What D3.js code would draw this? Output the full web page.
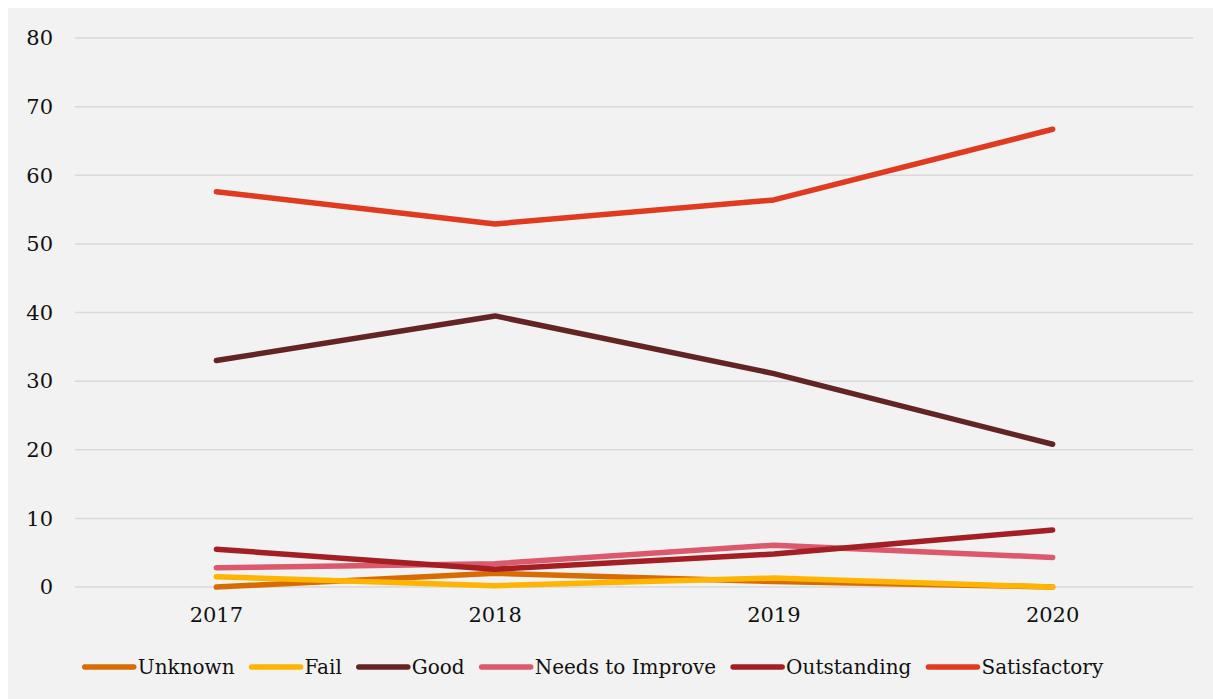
<!DOCTYPE html>
<html>
<head>
<meta charset="utf-8">
<script src="https://cdn.jsdelivr.net/npm/d3@7"></script>
<style>
  body { margin: 0; background: #fff; }
</style>
</head>
<body>
<svg id="chart" width="1213" height="699"></svg>
<script>
// data
const years = ['2017', '2018', '2019', '2020'];
const seriesNames = ['Unknown', 'Fail', 'Good', 'Needs to Improve', 'Outstanding', 'Satisfactory'];
const unknown = [0, 2.0, 0.8, 0];
const fail = [1.5, 0.2, 1.3, 0];
const good = [33.0, 39.5, 31.1, 20.8];
const needsToImprove = [2.8, 3.4, 6.1, 4.3];
const outstanding = [5.5, 2.6, 4.8, 8.3];
const satisfactory = [57.6, 52.9, 56.4, 66.7];
const yTicks = [0, 10, 20, 30, 40, 50, 60, 70, 80];
const colors = ['#d96c00', '#ffb500', '#632523', '#dc586d', '#a31f23', '#e03a20'];

const seriesValues = [unknown, fail, good, needsToImprove, outstanding, satisfactory];
const series = seriesNames.map((name, i) => ({ name, values: seriesValues[i], color: colors[i] }));

const FONT = "'DejaVu Serif', 'Liberation Serif', serif";

const svg = d3.select('#chart')
  .attr('font-family', FONT)
  .style('font-family', FONT);

// panel background
svg.append('rect')
  .attr('x', 8).attr('y', 8)
  .attr('width', 1205).attr('height', 691)
  .attr('fill', '#f2f2f2');

const x = d3.scaleBand().domain(years).range([77, 1192]);
const y = d3.scaleLinear().domain([0, 80]).range([587, 38]);

// gridlines
svg.append('g')
  .selectAll('line')
  .data(yTicks)
  .join('line')
  .attr('x1', 75).attr('x2', 1193)
  .attr('y1', d => y(d)).attr('y2', d => y(d))
  .attr('stroke', '#d9d9d9')
  .attr('stroke-width', 1.5);

// y labels
svg.append('g')
  .selectAll('text')
  .data(yTicks)
  .join('text')
  .attr('x', 53)
  .attr('y', d => y(d))
  .attr('dy', '0.35em')
  .attr('text-anchor', 'end')
  .attr('font-size', 21)
  .attr('fill', '#111')
  .text(d => d);

// x labels
svg.append('g')
  .selectAll('text')
  .data(years)
  .join('text')
  .attr('x', d => x(d) + x.bandwidth() / 2)
  .attr('y', 615)
  .attr('dy', '0.35em')
  .attr('text-anchor', 'middle')
  .attr('font-size', 21)
  .attr('fill', '#111')
  .text(d => d);

// lines
const line = d3.line()
  .x((d, i) => x(years[i]) + x.bandwidth() / 2)
  .y(d => y(d));

svg.append('g')
  .selectAll('path')
  .data(series)
  .join('path')
  .attr('d', d => line(d.values))
  .attr('fill', 'none')
  .attr('stroke', d => d.color)
  .attr('stroke-width', 5.5)
  .attr('stroke-linecap', 'round')
  .attr('stroke-linejoin', 'round');

// legend
const legendY = 667;
const gap = 17;
const legend = svg.append('g');
const items = legend.selectAll('g')
  .data(series)
  .join('g');

items.append('line')
  .attr('x1', 0).attr('x2', 49)
  .attr('y1', 0).attr('y2', 0)
  .attr('stroke', d => d.color)
  .attr('stroke-width', 5.5)
  .attr('stroke-linecap', 'round');

items.append('text')
  .attr('x', 53)
  .attr('dy', '0.35em')
  .attr('font-size', 20)
  .attr('fill', '#111')
  .text(d => d.name);

let offset = 0;
items.each(function () {
  const w = d3.select(this).select('text').node().getComputedTextLength();
  d3.select(this).attr('data-off', offset);
  offset += 53 + w + gap;
});
const totalWidth = offset - gap;
const startX = 594 - totalWidth / 2;
items.attr('transform', function () {
  return `translate(${startX + (+this.getAttribute('data-off'))},${legendY})`;
});
</script>
</body>
</html>
